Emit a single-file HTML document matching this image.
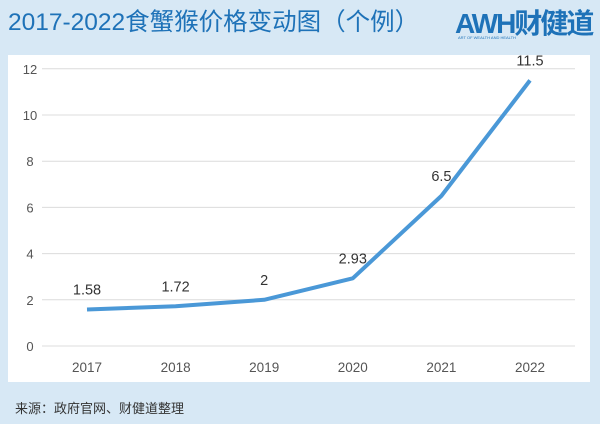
<!DOCTYPE html>
<html><head><meta charset="utf-8">
<style>
body{margin:0;width:600px;height:424px;background:#d7e8f5;font-family:"Liberation Sans","Noto Sans CJK SC",sans-serif;overflow:hidden;position:relative}
.title{position:absolute;left:8px;top:3px;font-size:24.5px;color:#1e72b8;white-space:nowrap}
.logo{position:absolute;left:455px;top:2px;font-size:28px;font-weight:bold;color:#1e72b8;white-space:nowrap;letter-spacing:-2px}
.logo-sub{position:absolute;left:458px;top:35px;font-size:4px;color:#1e72b8}
.panel{position:absolute;left:8px;top:55px;width:582px;height:327px;background:#fff}
.src{position:absolute;left:15px;top:398px;font-size:13px;color:#333}
</style></head><body>
<div class="title">2017-2022食蟹猴价格变动图（个例）</div>
<div class="logo">AWH财健道</div>
<div class="logo-sub">ART OF WEALTH AND HEALTH</div>
<div class="panel"></div>
<svg id="chart" width="600" height="424" style="position:absolute;left:0;top:0"></svg>
<div class="src">来源：政府官网、财健道整理</div>
<script>
const categories=["2017","2018","2019","2020","2021","2022"];
const values=[1.58,1.72,2,2.93,6.5,11.5];
const valueLabels=["1.58","1.72","2","2.93","6.5","11.5"];
const yTicks=[0,2,4,6,8,10,12];
const NS="http://www.w3.org/2000/svg";
const svg=document.getElementById('chart');
const x=i=>87+i*88.6;
const y=v=>346-v*23.1;
function mk(t,a){const e=document.createElementNS(NS,t);for(const k in a)e.setAttribute(k,a[k]);svg.appendChild(e);return e;}
yTicks.forEach(t=>{
 const l=mk('line',{x1:42,x2:575,y1:y(t),y2:y(t),stroke:'#dcdcdc','stroke-width':1});
 
 
 const tx=mk('text',{x:30,y:y(t)+5,'text-anchor':'middle','font-size':13,fill:'#555'});
 tx.textContent=t;
 
 
});
categories.forEach((c,i)=>{
 const tx=mk('text',{x:x(i),y:372,'text-anchor':'middle','font-size':13.5,fill:'#555'});
 tx.textContent=c;
 
 
});
let d='';
values.forEach((v,i)=>{d+=(i?'L':'M')+x(i)+','+y(v);});
const p=mk('path',{d:d,fill:'none',stroke:'#4a98d7','stroke-width':4,'stroke-linejoin':'round'});


values.forEach((v,i)=>{
 const tx=mk('text',{x:x(i),y:y(v)-15,'text-anchor':'middle','font-size':14.5,fill:'#333'});
 tx.textContent=valueLabels[i];
 
 
});
</script>
</body></html>
